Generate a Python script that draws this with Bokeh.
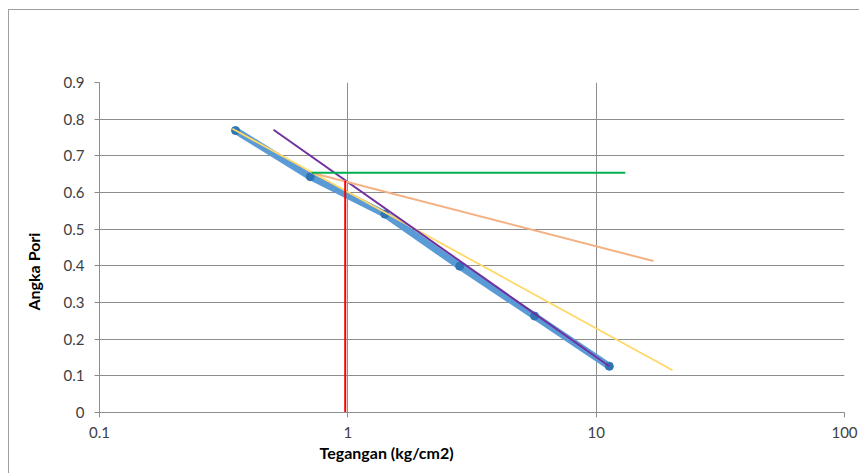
from bokeh.plotting import figure
from bokeh.models import Range1d, FixedTicker, CustomJSTickFormatter, Title
from bokeh.embed import file_html
from bokeh.resources import INLINE

# Data
tegangan = [0.353, 0.706, 1.41, 2.82, 5.65, 11.3]
angka_pori = [0.769, 0.643, 0.541, 0.399, 0.263, 0.126]

purple_x = [0.502, 11.3]
purple_y = [0.771, 0.126]
yellow_x = [0.343, 20.3]
yellow_y = [0.774, 0.115]
orange_x = [0.714, 17.0]
orange_y = [0.654, 0.413]
green_x = [0.714, 13.1]
green_y = [0.654, 0.654]
red_x = [0.976, 0.976]
red_y = [0.0, 0.632]

x_ticks = [0.1, 1, 10, 100]
y_ticks = [0, 0.1, 0.2, 0.3, 0.4, 0.5, 0.6, 0.7, 0.8, 0.9]
x_title = "Tegangan (kg/cm2)"
y_title = "Angka Pori"

FONT = "Lato"
GRID = "#8c8c8c"
TXT = "#404040"
BORDER = "#a0a0a0"

p = figure(width=855, height=464, x_axis_type="log",
           x_range=Range1d(0.1, 100), y_range=Range1d(0, 0.9),
           output_backend="svg", toolbar_location=None,
           min_border_left=95, min_border_right=15,
           min_border_top=73, min_border_bottom=61,
           margin=(9, 0, 0, 4))
# chart-area border (left and top) drawn as background lines behind a transparent border fill
p.styles = {
    "background": (f"linear-gradient({BORDER},{BORDER}) 4px 0 / 1px 100% no-repeat, "
                   f"linear-gradient({BORDER},{BORDER}) 4px 0 / 100% 1px no-repeat, white"),
}
p.outline_line_color = None
p.background_fill_color = "white"
p.border_fill_color = None

p.xaxis.ticker = FixedTicker(ticks=x_ticks)
p.xaxis.formatter = CustomJSTickFormatter(code="return tick.toString();")
p.yaxis.ticker = FixedTicker(ticks=y_ticks)
for ax in (p.xaxis, p.yaxis):
    ax.axis_line_color = GRID
    ax.major_tick_line_color = GRID
    ax.major_tick_out = 5
    ax.major_tick_in = 0
    ax.minor_tick_line_color = None
    ax.major_label_text_font = FONT
    ax.major_label_text_font_size = "15px"
    ax.major_label_text_color = TXT
p.xaxis.major_label_standoff = 9
p.yaxis.major_label_standoff = 10

p.xgrid.ticker = FixedTicker(ticks=x_ticks)
p.ygrid.ticker = FixedTicker(ticks=y_ticks)
p.xgrid.grid_line_color = GRID
p.ygrid.grid_line_color = GRID
p.xgrid.minor_grid_line_color = None

# Series
p.line(tegangan, angka_pori, line_color="#5b9bd5", line_width=7, line_join="round", line_cap="round")
p.scatter(tegangan, angka_pori, size=8, fill_color="#2e75b6", line_color="#2e75b6")
p.line(yellow_x, yellow_y, line_color="#ffd966", line_width=1.8)
p.line(purple_x, purple_y, line_color="#7030a0", line_width=2)
p.line(orange_x, orange_y, line_color="#f4b183", line_width=2)
p.line(green_x, green_y, line_color="#00b050", line_width=2)
p.line(red_x, red_y, line_color="#ff0000", line_width=2)

# Axis titles
p.add_layout(Title(text=x_title, align="left", offset=220, standoff=0,
                   text_font=FONT, text_font_style="bold", text_font_size="16px",
                   text_color="#000000"), "below")
p.add_layout(Title(text=y_title, align="left", offset=102, standoff=35,
                   text_font=FONT, text_font_style="bold", text_font_size="16px",
                   text_color="#000000"), "left")

open("out.html", "w").write(file_html(p, INLINE))
